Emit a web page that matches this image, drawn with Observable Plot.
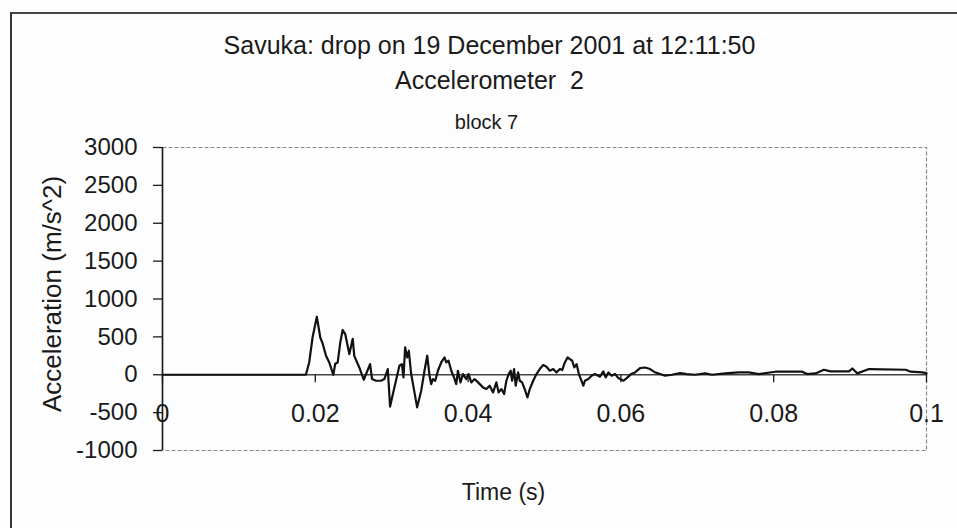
<!DOCTYPE html>
<html>
<head>
<meta charset="utf-8">
<script src="https://cdn.jsdelivr.net/npm/d3@7"></script>
<script src="https://cdn.jsdelivr.net/npm/@observablehq/plot@0.6"></script>
<style>
  html, body { margin: 0; padding: 0; background: #ffffff; }
  #wrap { position: relative; width: 957px; height: 528px; overflow: hidden; background: #fdfdfd; }
  #border { position: absolute; left: 10px; top: 12px; width: 1000px; height: 600px;
            border-left: 2px solid #333; border-top: 2px solid #444; }
  #chart { position: absolute; left: 0; top: 0; }
</style>
</head>
<body>
<div id="wrap">
  <div id="border"></div>
  <div id="chart"></div>
</div>
<script>
const titleLines = ["Savuka: drop on 19 December 2001 at 12:11:50", "Accelerometer  2"];
const subTitle = "block 7";
const xLabel = "Time (s)";
const yLabel = "Acceleration (m/s^2)";

const xTicks = [0, 0.02, 0.04, 0.06, 0.08, 0.1];
const xTickLabels = ["0", "0.02", "0.04", "0.06", "0.08", "0.1"];
const yTicks = [-1000, -500, 0, 500, 1000, 1500, 2000, 2500, 3000];
const yTickLabels = ["-1000", "-500", "0", "500", "1000", "1500", "2000", "2500", "3000"];

// time (s)
const time = [
  0, 0.01877, 0.0192, 0.01964, 0.0202, 0.02065, 0.02096, 0.0214, 0.02183, 0.02235,
  0.02261, 0.02293, 0.02327, 0.02358, 0.02392, 0.02445, 0.0249, 0.0251, 0.02576, 0.02634,
  0.02717, 0.02743, 0.02795, 0.02861, 0.02904, 0.02949, 0.02979, 0.03035, 0.03101, 0.03133,
  0.03154, 0.03176, 0.03202, 0.03224, 0.03255, 0.03298, 0.03333, 0.03386, 0.03429, 0.03465,
  0.03495, 0.03517, 0.03539, 0.0357, 0.03605, 0.03648, 0.03692, 0.03714, 0.03744, 0.0378,
  0.03815, 0.03845, 0.03867, 0.03901, 0.03933, 0.03976, 0.04006, 0.04042, 0.04085, 0.0413,
  0.04195, 0.04239, 0.04282, 0.04327, 0.0437, 0.044, 0.04436, 0.04471, 0.04501, 0.04531,
  0.04557, 0.04576, 0.04602, 0.04623, 0.04655, 0.04676, 0.04707, 0.04741, 0.04777, 0.04807,
  0.04852, 0.04895, 0.04938, 0.04983, 0.05026, 0.0507, 0.05114, 0.05157, 0.05201, 0.05232,
  0.05266, 0.05302, 0.05332, 0.05363, 0.0539, 0.0542, 0.0545, 0.05476, 0.05508, 0.05529,
  0.05573, 0.05617, 0.0566, 0.05726, 0.0577, 0.05801, 0.05836, 0.05879, 0.05923, 0.05967,
  0.06033, 0.06076, 0.06133, 0.06185, 0.06251, 0.06316, 0.06382, 0.06447, 0.06513, 0.06579,
  0.06667, 0.06776, 0.06864, 0.06972, 0.07104, 0.07192, 0.07366, 0.07542, 0.07673, 0.07804,
  0.08022, 0.08373, 0.08438, 0.08547, 0.08657, 0.08744, 0.08986, 0.09029, 0.09094, 0.09248,
  0.09728, 0.09794, 0.09948, 0.1
];
// acceleration (m/s^2)
const accel = [
  0, 0, 162, 492, 766, 492, 413, 250, 162, 0,
  145, 162, 426, 590, 537, 273, 475, 250, 96, -66,
  141, -57, -79, -79, -57, 75, -420, -167, 119, 141,
  -35, 361, 228, 317, 9, -233, -430, -211, 53, 251,
  -13, -123, -57, -79, 53, 162, 228, 162, 185, 53,
  -35, -123, 53, -101, 9, -57, 9, -101, -57, -101,
  -167, -189, -145, -233, -101, -233, -189, -255, -79, 9,
  53, -79, 75, -145, 31, -79, -101, -189, -300, -189,
  -79, 9, 75, 128, 106, 53, 75, 31, 75, 62,
  162, 228, 207, 185, 96, 141, 9, -57, -145, -79,
  -57, -13, 9, -26, 44, -35, 31, -13, 9, -44,
  -79, -44, 9, 31, 88, 96, 75, 31, 9, -13,
  0, 22, 9, 0, 18, 0, 18, 31, 31, 9,
  40, 40, 9, 18, 66, 44, 44, 83, 18, 75,
  66, 40, 31, 18
];

const data = time.map((t, i) => ({t, a: accel[i]}));
const font = "'Liberation Sans', Arial, Helvetica, sans-serif";

const chart = Plot.plot({
  width: 957,
  height: 528,
  marginLeft: 162,
  marginRight: 31,
  marginTop: 147,
  marginBottom: 78,
  style: {fontFamily: font, background: "transparent", color: "#1a1a1a"},
  x: {domain: [0, 0.1], axis: null},
  y: {domain: [-1000, 3000]},
  marks: [
    Plot.frame({stroke: "#8a8a8a", strokeDasharray: "4,2", strokeWidth: 1.2}),
    Plot.axisY({
      ticks: yTicks,
      tickSize: 9,
      tickPadding: 16,
      fontSize: 24,
      label: null,
      tickFormat: d => yTickLabels[yTicks.indexOf(d)],
      strokeWidth: 1.3
    }),
    Plot.ruleX([0], {stroke: "#1a1a1a", strokeWidth: 1.6}),
    Plot.ruleY([0], {stroke: "#444", strokeWidth: 1.5}),
    Plot.ruleX(xTicks, {x: d => d, y1: () => 0, y2: () => 0, insetTop: 0, insetBottom: -8, stroke: "#1a1a1a", strokeWidth: 1.3}),
    Plot.text(xTicks, {x: d => d, y: () => 0, text: (d, i) => xTickLabels[i], dy: 39, fontSize: 25, fill: "#1a1a1a"}),
    Plot.line(data, {x: "t", y: "a", stroke: "#111", strokeWidth: 2.2, strokeLinejoin: "round"}),
    Plot.text([titleLines[0]], {frameAnchor: "top", lineAnchor: "middle", dx: -55, dy: -102, fontSize: 25, fill: "#1a1a1a"}),
    Plot.text([titleLines[1]], {frameAnchor: "top", lineAnchor: "middle", dx: -55, dy: -67, fontSize: 25, fill: "#1a1a1a"}),
    Plot.text([subTitle], {frameAnchor: "top", lineAnchor: "middle", dx: -58, dy: -25, fontSize: 20, fill: "#1a1a1a"}),
    Plot.text([xLabel], {frameAnchor: "bottom", lineAnchor: "middle", dx: -41, dy: 42, fontSize: 23, fill: "#1a1a1a"}),
    Plot.text([yLabel], {frameAnchor: "left", textAnchor: "middle", lineAnchor: "middle", dx: -110, dy: -5, rotate: -90, fontSize: 26, fill: "#1a1a1a"})
  ]
});

document.getElementById("chart").appendChild(chart);
</script>
</body>
</html>
